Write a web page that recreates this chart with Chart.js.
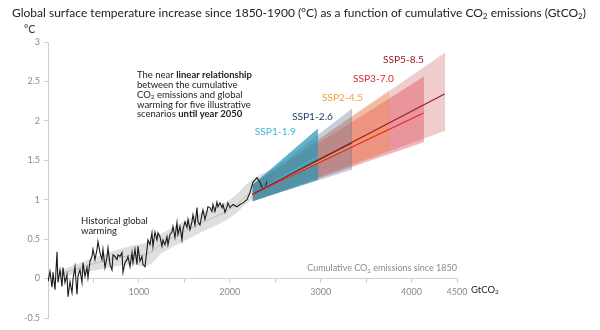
<!DOCTYPE html>
<html>
<head>
<meta charset="utf-8">
<script src="https://cdn.jsdelivr.net/npm/chart.js@4.4.0/dist/chart.umd.min.js"></script>
<style>
  html, body { margin: 0; padding: 0; background: #fff; }
</style>
</head>
<body>
<canvas id="chart" width="600" height="330"></canvas>
<script>
// ---------------------------------------------------------
// Data (cumulative CO2 in GtCO2, warming in °C)
// ---------------------------------------------------------
var histX = [0,22,44,55,77,99,110,132,154,165,187,209,220,242,264,275,297,319,330,352,374,385,407,429,440,462,484,495,517,539,550,572,594,605,627,649,660,682,704,715,737,759,770,792,814,825,847,869,880,902,924,935,957,979,990,1012,1034,1045,1067,1089,1100,1122,1144,1155,1177,1199,1210,1232,1254,1265,1287,1309,1320,1342,1364,1375,1397,1419,1430,1452,1474,1485,1507,1529,1540,1562,1584,1595,1617,1639,1650,1672,1694,1705,1727,1749,1760,1782,1804,1815,1837,1859,1870,1892,1914,1925,1947,1969,1980,2002,2035,2079,2112,2145,2189,2222,2255,2299,2332,2365,2387,2409];
var histT = [-0.04,0.09,-0.11,0.08,-0.14,0.34,-0.05,0.11,-0.10,0.14,-0.05,0.05,-0.23,-0.04,-0.18,-0.01,0.15,-0.20,0.03,0.11,-0.05,0.20,0.03,0.14,0.01,0.22,0.28,0.37,0.24,0.37,0.47,0.33,0.24,0.37,0.14,0.27,0.39,0.18,0.11,0.30,0.28,0.24,0.30,0.28,0.33,0.08,0.20,0.24,0.28,0.15,0.33,0.20,0.37,0.18,0.41,0.22,0.28,0.18,0.15,0.37,0.49,0.43,0.58,0.41,0.59,0.49,0.58,0.53,0.41,0.49,0.43,0.53,0.43,0.56,0.59,0.66,0.52,0.71,0.56,0.66,0.49,0.62,0.72,0.65,0.75,0.62,0.72,0.81,0.68,0.90,0.72,0.68,0.81,0.87,0.75,0.85,0.91,0.90,0.85,0.94,0.85,0.97,0.91,0.96,0.90,0.94,0.84,0.91,0.96,0.90,0.94,0.91,0.94,0.96,1.00,1.09,1.22,1.28,1.22,1.13,1.16,1.23];

// historical likely range (grey band) and its central estimate
var bandX   = [130, 540, 900, 1090, 1265, 1640, 2000, 2240, 2480];
var bandLo  = [0.02, 0.11, 0.18, 0.16, 0.33, 0.56, 0.77, 1.00, 1.14];
var bandMid = [0.06, 0.20, 0.29, 0.31, 0.45, 0.68, 0.88, 1.10, 1.27];
var bandHi  = [0.10, 0.28, 0.41, 0.46, 0.58, 0.81, 1.00, 1.25, 1.40];

// scenarios up to 2050
var scenarios = ['SSP1-1.9', 'SSP1-2.6', 'SSP2-4.5', 'SSP3-7.0', 'SSP5-8.5'];
var startX = 2250, startLo = 0.98, startMid = 1.07, startHi = 1.19;
var endX   = [2967, 3340, 3747, 4132, 4363];
var endLo  = [1.25, 1.38, 1.62, 1.73, 1.87];
var endMid = [1.55, 1.72, 1.92, 2.10, 2.34];
var endHi  = [1.90, 2.15, 2.38, 2.56, 2.86];

var xTicks = [1000, 2000, 3000, 4000, 4500];

// ---------------------------------------------------------
// Styles
// ---------------------------------------------------------
var lineColors = ['#3db6d8', '#1f3d6d', '#f2a23a', '#e0262e', '#9c1b24'];
var bandColors = ['rgba(45,150,180,0.72)', 'rgba(95,115,150,0.35)', 'rgba(245,150,70,0.32)', 'rgba(222,50,70,0.36)', 'rgba(200,70,70,0.27)'];
var edgeColors = ['rgba(40,140,170,0.6)', 'rgba(90,110,140,0.45)', 'rgba(220,140,80,0.4)', 'rgba(200,60,70,0.35)', 'rgba(190,80,80,0.3)'];
var bandOrder  = [50, 60, 70, 80, 90];

function pts(xs, ys) {
    return xs.map(function(x, i) { return { x: x, y: ys[i] }; });
}

var datasets = [];

// grey band
datasets.push({ data: pts(bandX, bandLo), borderWidth: 0, pointRadius: 0, tension: 0.4, fill: false, order: 100 });
datasets.push({ data: pts(bandX, bandHi), borderWidth: 0, pointRadius: 0, tension: 0.4,
    fill: datasets.length - 1, backgroundColor: 'rgba(185,185,185,0.45)', order: 100 });
datasets.push({ data: pts(bandX, bandMid), borderColor: '#b5b5b5', borderWidth: 0.8, pointRadius: 0, tension: 0.4, fill: false, order: 99 });

// scenario bands (closed outline drawn through the band corners)
scenarios.forEach(function(name, i) {
    datasets.push({ data: [{ x: startX, y: startLo }, { x: endX[i], y: endLo[i] }],
        borderWidth: 0, pointRadius: 0, fill: false, order: bandOrder[i] });
    datasets.push({ data: [{ x: startX, y: startHi }, { x: endX[i], y: endHi[i] }],
        borderWidth: 0, pointRadius: 0, fill: datasets.length - 1,
        backgroundColor: bandColors[i], order: bandOrder[i] });
    // right edge of the band
    datasets.push({ data: [{ x: endX[i], y: endLo[i] }, { x: endX[i], y: endHi[i] }],
        borderColor: edgeColors[i], borderWidth: 0.8, pointRadius: 0, fill: false, order: bandOrder[i] - 1 });
});

// historical observed
datasets.push({ data: pts(histX, histT), borderColor: '#1a1a1a', borderWidth: 1.1,
    pointRadius: 0, fill: false, order: 40 });

// scenario central lines
scenarios.forEach(function(name, i) {
    datasets.push({ data: [{ x: startX, y: startMid }, { x: endX[i], y: endMid[i] }],
        borderColor: lineColors[i], borderWidth: 1.2, pointRadius: 0, fill: false, order: 30 - i * 4 });
});

// ---------------------------------------------------------
// Text helpers
// ---------------------------------------------------------
function fontFor(style, size) {
    if (style === 'b') return 'bold ' + size + 'px Lato';
    if (style === 's') return (size * 0.68) + 'px Lato';
    return size + 'px Lato';
}

function rich(ctx, x, y, parts, size, color, align) {
    var w = 0;
    parts.forEach(function(p) { ctx.font = fontFor(p[1], size); w += ctx.measureText(p[0]).width; });
    if (align === 'right') x -= w;
    ctx.fillStyle = color;
    ctx.textAlign = 'left';
    ctx.textBaseline = 'middle';
    parts.forEach(function(p) {
        ctx.font = fontFor(p[1], size);
        ctx.fillText(p[0], x, p[1] === 's' ? y + size * 0.28 : y);
        x += ctx.measureText(p[0]).width;
    });
}

var labelX = [2275, 2684, 3014, 3355, 3685];
var labelY = [1.86, 2.05, 2.29, 2.53, 2.77];

var textPlugin = {
    id: 'texts',
    afterDraw: function(chart) {
        var ctx = chart.ctx, sx = chart.scales.x, sy = chart.scales.y;
        ctx.save();

        rich(ctx, 12, 13, [['Global surface temperature increase since 1850-1900 (°C) as a function of cumulative CO'],
            ['2', 's'], [' emissions (GtCO'], ['2', 's'], [')']], 12, '#222');
        rich(ctx, 24, 30, [['°C']], 10.5, '#333');

        // annotation paragraph
        var ax = sx.getPixelForValue(979), ay = sy.getPixelForValue(2.58);
        var para = [
            [['The near '], ['linear relationship', 'b']],
            [['between the cumulative']],
            [['CO'], ['2', 's'], [' emissions and global']],
            [['warming for five illustrative']],
            [['scenarios '], ['until year 2050', 'b']]
        ];
        para.forEach(function(line, k) { rich(ctx, ax, ay + k * 9.8, line, 9.5, '#222'); });

        var hx = sx.getPixelForValue(363), hy = sy.getPixelForValue(0.73);
        rich(ctx, hx, hy, [['Historical global']], 9.5, '#222');
        rich(ctx, hx, hy + 9.8, [['warming']], 9.5, '#222');

        scenarios.forEach(function(name, i) {
            rich(ctx, sx.getPixelForValue(labelX[i]), sy.getPixelForValue(labelY[i]), [[name]], 10.2, lineColors[i]);
        });

        // axis captions
        rich(ctx, sx.getPixelForValue(4500), sy.getPixelForValue(0) - 10,
            [['Cumulative CO'], ['2', 's'], [' emissions since 1850']], 9, '#8a8a8a', 'right');
        rich(ctx, sx.getPixelForValue(4500) + 14, sy.getPixelForValue(0) + 11,
            [['GtCO'], ['2', 's']], 9.5, '#222');

        ctx.restore();
    }
};

// ---------------------------------------------------------
// Chart
// ---------------------------------------------------------
new Chart(document.getElementById('chart'), {
    type: 'line',
    data: { datasets: datasets },
    options: {
        responsive: false,
        animation: false,
        events: [],
        layout: { padding: { left: 0, top: 42, right: 143, bottom: 12 } },
        plugins: { legend: { display: false }, tooltip: { enabled: false } },
        scales: {
            x: {
                type: 'linear',
                position: { y: 0 },
                min: 0, max: 4500,
                afterFit: function(s) { s.height = 0; },
                afterBuildTicks: function(s) {
                    s.ticks = [500, 1000, 1500, 2000, 2500, 3000, 3500, 4000, 4500].map(function(v) { return { value: v }; });
                },
                ticks: {
                    autoSkip: false, maxRotation: 0, padding: 4,
                    color: '#8a8a8a', font: { family: 'Lato', size: 9 },
                    callback: function(v) { return xTicks.indexOf(v) >= 0 ? String(v) : ''; }
                },
                grid: { drawOnChartArea: false, tickLength: 4, color: '#cfcfcf' },
                border: { color: '#cfcfcf', width: 1 }
            },
            y: {
                min: -0.5, max: 3,
                afterFit: function(s) { s.width = 48; },
                ticks: {
                    stepSize: 0.5, padding: 4, color: '#8a8a8a', font: { family: 'Lato', size: 9 },
                    callback: function(v) { return String(Math.round(v * 10) / 10); }
                },
                grid: { drawOnChartArea: false, tickLength: 4, color: '#cfcfcf' },
                border: { color: '#cfcfcf', width: 1 }
            }
        }
    },
    plugins: [textPlugin]
});
</script>
</body>
</html>
